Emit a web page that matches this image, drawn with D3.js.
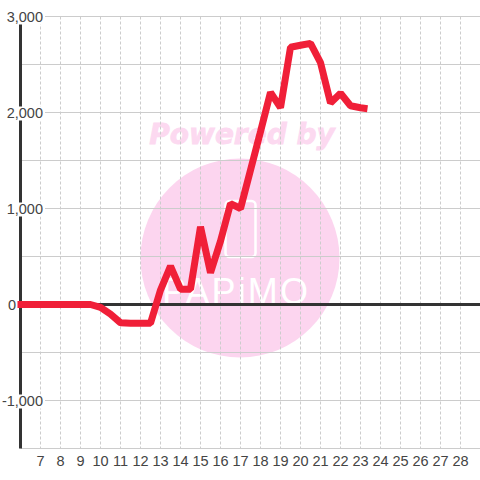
<!DOCTYPE html>
<html>
<head>
<meta charset="utf-8">
<script src="https://cdn.jsdelivr.net/npm/d3@7"></script>
<style>
html, body { margin: 0; padding: 0; background: #fff; }
svg { display: block; }
text { font-family: "Liberation Sans", Arial, sans-serif; }
</style>
</head>
<body>
<svg width="480" height="480"></svg>
<script>
// x is the day number, y the value, one point every half day
var days = [5.85, 6.5, 7, 7.5, 8, 8.5, 9, 9.5, 10, 10.5, 11, 11.5, 12, 12.5, 13, 13.5, 14, 14.5, 15, 15.5, 16, 16.5, 17, 17.5, 18, 18.5, 19, 19.5, 20, 20.5, 21, 21.5, 22, 22.5, 23, 23.35];
var values = [0, 0, 0, 0, 0, 0, 0, 0, -30, -100, -190, -195, -195, -195, 150, 400, 160, 160, 810, 330, 660, 1050, 1000, 1400, 1800, 2210, 2050, 2680, 2700, 2720, 2520, 2100, 2200, 2070, 2050, 2040];
var dayTicks = [7, 8, 9, 10, 11, 12, 13, 14, 15, 16, 17, 18, 19, 20, 21, 22, 23, 24, 25, 26, 27, 28];
var labelTicks = [3000, 2000, 1000, 0, -1000];
var gridTicks = [3000, 2500, 2000, 1500, 1000, 500, -500, -1000, -1500];

var svg = d3.select("svg");

var x = d3.scaleLinear().domain([6, 29]).range([20.5, 480.5]);
var y = d3.scaleLinear().domain([3000, -1500]).range([16.5, 448.5]);

// watermark
var mark = svg.append("g");
mark.append("circle").attr("cx", 240).attr("cy", 258).attr("r", 99.5).attr("fill", "#fcd5ef");
mark.append("text")
    .attr("x", 242).attr("y", 144)
    .attr("text-anchor", "middle")
    .attr("font-size", 28).attr("font-weight", "bold").attr("font-style", "italic")
    .attr("fill", "#fcd9f0").attr("stroke", "#fcd9f0").attr("stroke-width", 0.8)
    .style("font-family", "'DejaVu Sans'")
    .text("Powered by");
mark.append("rect")
    .attr("x", 225.5).attr("y", 201).attr("width", 30).attr("height", 56).attr("rx", 4)
    .attr("fill", "none").attr("stroke", "#fff").attr("stroke-width", 2.5);
mark.append("text")
    .attr("x", 162).attr("y", 304)
    .attr("font-size", 36)
    .attr("textLength", 146).attr("lengthAdjust", "spacing")
    .attr("fill", "#fff")
    .style("font-family", "'Liberation Sans Narrow', 'Liberation Sans'")
    .text("PAPiMO");

// grid
svg.append("g").selectAll("line").data(dayTicks).join("line")
    .attr("x1", function(d) { return x(d); }).attr("x2", function(d) { return x(d); })
    .attr("y1", y(3000)).attr("y2", y(-1500))
    .attr("stroke", "#ccc").attr("stroke-dasharray", "3,2");
svg.append("g").selectAll("line").data(gridTicks).join("line")
    .attr("x1", x(6)).attr("x2", 480)
    .attr("y1", function(d) { return y(d); }).attr("y2", function(d) { return y(d); })
    .attr("stroke", "#ccc");

// axis lines
svg.append("line").attr("x1", x(6)).attr("x2", x(6)).attr("y1", 24).attr("y2", y(-1500))
    .attr("stroke", "#333").attr("stroke-width", 3);
svg.append("line").attr("x1", x(6)).attr("x2", 480).attr("y1", y(0)).attr("y2", y(0))
    .attr("stroke", "#333").attr("stroke-width", 3);

// tick labels sit on a white box that hides the lines behind them
var yLabels = svg.append("g").selectAll("g").data(labelTicks).join("g");
yLabels.append("rect")
    .attr("x", function(d) { return d == 0 ? 7 : 0; })
    .attr("width", function(d) { return d == 0 ? 10 : 45; })
    .attr("y", function(d) { return y(d) - 6; })
    .attr("height", 14)
    .attr("fill", "#fff");
yLabels.append("text")
    .attr("x", function(d) { return d == 0 ? 16 : 43; })
    .attr("y", function(d) { return y(d) + 5; })
    .attr("text-anchor", "end")
    .attr("font-size", 14.5)
    .attr("fill", "#444")
    .text(function(d) { return d3.format(",")(d).replace("\u2212", "-"); });

svg.append("g").selectAll("text").data(dayTicks).join("text")
    .attr("x", function(d) { return x(d); })
    .attr("y", 466)
    .attr("text-anchor", "middle")
    .attr("font-size", 14.5)
    .attr("fill", "#444")
    .text(function(d) { return d; });

// series
var line = d3.line()
    .x(function(d, i) { return x(days[i]); })
    .y(function(d) { return y(d); });
svg.append("path")
    .datum(values)
    .attr("fill", "none")
    .attr("stroke", "#f01f38")
    .attr("stroke-width", 7)
    .attr("stroke-linejoin", "bevel")
    .attr("d", line);
</script>
</body>
</html>
